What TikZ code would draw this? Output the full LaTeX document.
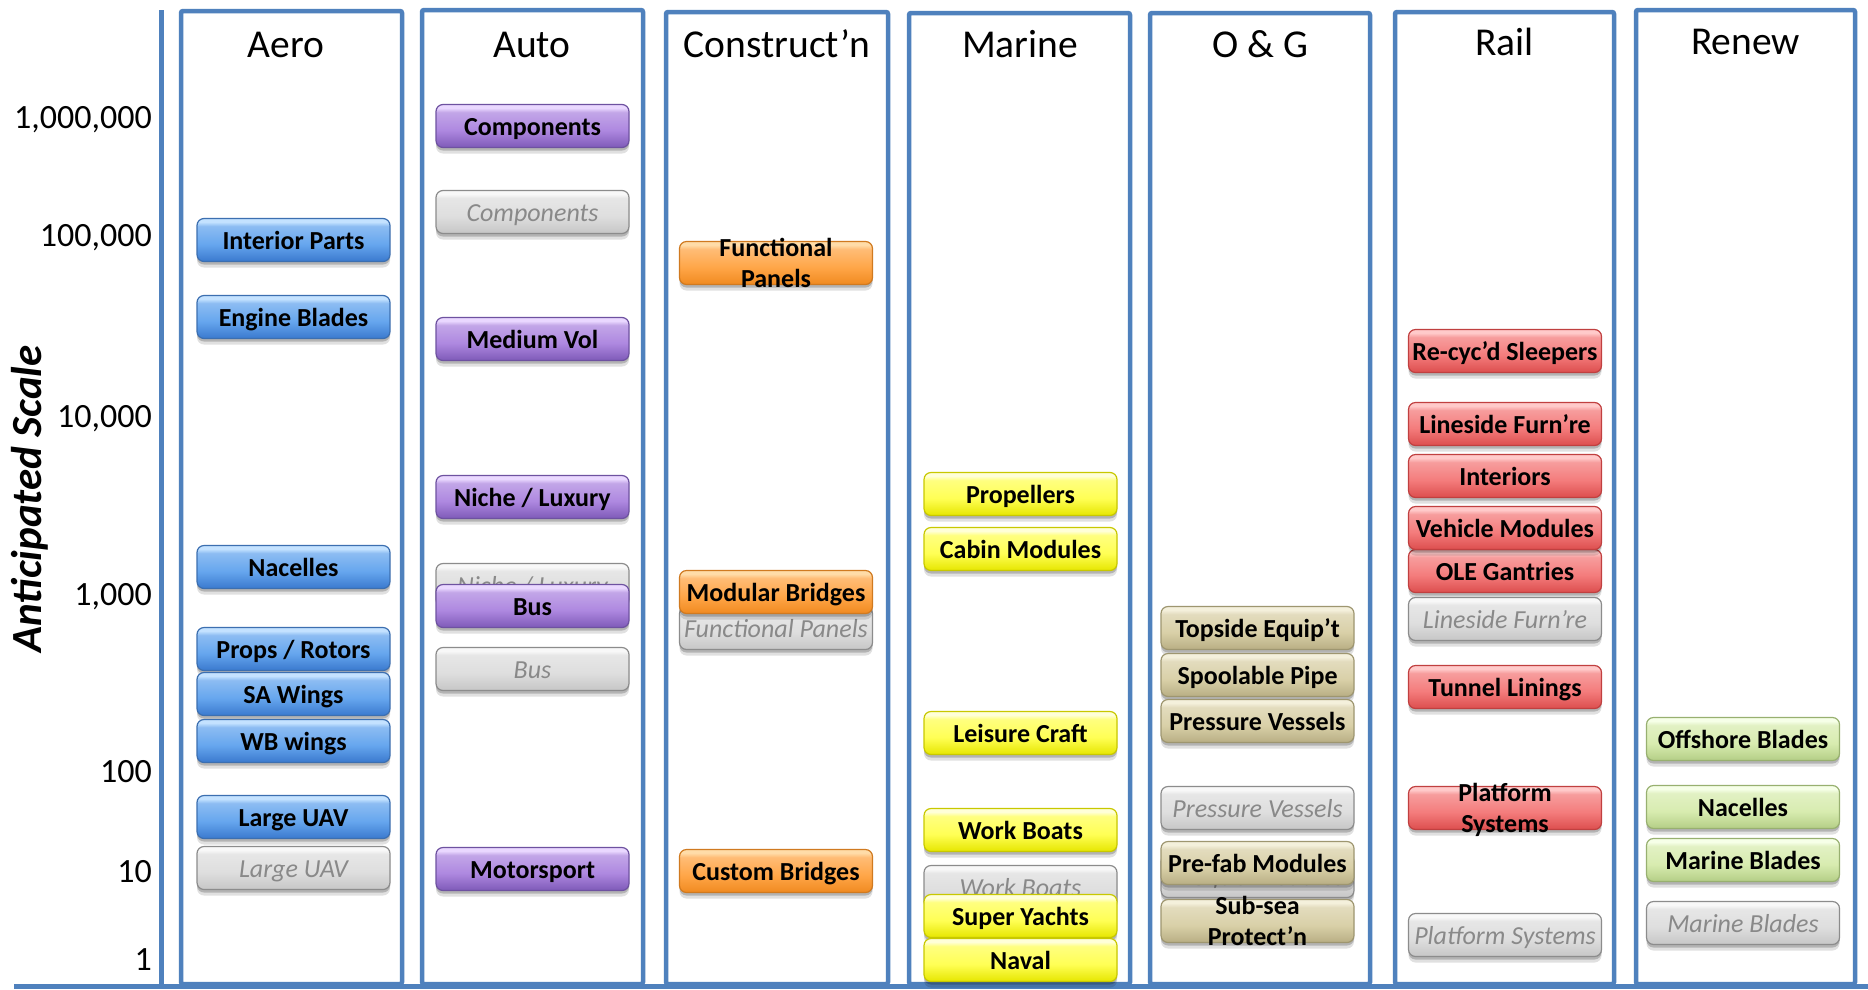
\documentclass[tikz,border=0pt]{standalone}
\usepackage{fontspec}
\setmainfont{Carlito}
\usetikzlibrary{shadows}
\definecolor{colblue}{HTML}{4F81BD}
% light, base, dark, border
\definecolor{bL}{HTML}{C4E2FF}\definecolor{bB}{HTML}{66A6EE}\definecolor{bD}{HTML}{3A79CE}\definecolor{bE}{HTML}{3C6FB0}
\definecolor{pL}{HTML}{EAD8FF}\definecolor{pB}{HTML}{AE88E0}\definecolor{pD}{HTML}{7E5AB8}\definecolor{pE}{HTML}{6E52A0}
\definecolor{oL}{HTML}{FFDCA8}\definecolor{oB}{HTML}{FFA648}\definecolor{oD}{HTML}{F08A20}\definecolor{oE}{HTML}{D07A20}
\definecolor{yL}{HTML}{FFFFD8}\definecolor{yB}{HTML}{FFFF55}\definecolor{yD}{HTML}{E6E600}\definecolor{yE}{HTML}{C8C800}
\definecolor{kL}{HTML}{F4F0DC}\definecolor{kB}{HTML}{D9D0A8}\definecolor{kD}{HTML}{B8AE84}\definecolor{kE}{HTML}{9E9670}
\definecolor{rL}{HTML}{FFCACA}\definecolor{rB}{HTML}{F47C7C}\definecolor{rD}{HTML}{DC4E4E}\definecolor{rE}{HTML}{C04040}
\definecolor{gL}{HTML}{F6FFE8}\definecolor{gB}{HTML}{D8ECB0}\definecolor{gD}{HTML}{B4CE86}\definecolor{gE}{HTML}{98B070}
\definecolor{hL}{HTML}{F8F8F8}\definecolor{hB}{HTML}{DEDEDE}\definecolor{hD}{HTML}{C6C6C6}\definecolor{hE}{HTML}{8C8C8C}
\definecolor{greytext}{HTML}{898989}
\newcommand\mkshade[4]{\pgfdeclareverticalshading{#1}{100bp}{color(0bp)=(#4); color(25bp)=(#4); color(45bp)=(#3); color(66bp)=(#3!75!white); color(71bp)=(#2); color(75bp)=(#2); color(100bp)=(#2)}}
\mkshade{sh-b}{bL}{bB}{bD}
\mkshade{sh-p}{pL}{pB}{pD}
\mkshade{sh-o}{oL}{oB}{oD}
\mkshade{sh-y}{yL}{yB}{yD}
\mkshade{sh-k}{kL}{kB}{kD}
\mkshade{sh-r}{rL}{rB}{rD}
\mkshade{sh-g}{gL}{gB}{gD}
\mkshade{sh-h}{hL}{hB}{hD}
\newcommand\bx[5]{\node[#4] (#1) at (#2,#3) {};
  \node[btxt] at (#1.center) {#5};}
\newcommand\bxx[6]{\node[#4] (#1) at (#2,#3) {};
  \node[btxt,yshift=15.5pt] at (#1.center) {#5};
  \node[btxt,yshift=-15.5pt] at (#1.center) {#6};}
\newcommand\gx[4]{\node[gbox] (#1) at (#2,#3) {};
  \node[gtxt] at (#1.center) {#4};}
\begin{document}
\begin{tikzpicture}[x=1pt,y=-1pt,
  col/.style={draw=colblue, line width=4.5pt, rounded corners=2pt},
  box/.style={rectangle, rounded corners=7pt, minimum width=193pt, minimum height=43pt,
     inner sep=0pt, line width=1.2pt,
     drop shadow={shadow xshift=0pt, shadow yshift=-6pt, opacity=0.12, fill=black},
     drop shadow={shadow xshift=0pt, shadow yshift=-3pt, opacity=0.2, fill=black}},
  bxb/.style={box, draw=bE, shading=sh-b},
  bxp/.style={box, draw=pE, shading=sh-p},
  bxo/.style={box, draw=oE, shading=sh-o},
  bxy/.style={box, draw=yE, shading=sh-y},
  bxk/.style={box, draw=kE, shading=sh-k},
  bxr/.style={box, draw=rE, shading=sh-r},
  bxg/.style={box, draw=gE, shading=sh-g},
  gbox/.style={box, draw=hE, shading=sh-h},
  btxt/.style={anchor=base, yshift=-9pt, inner sep=0pt, font=\fontsize{26}{31}\selectfont\bfseries},
  gtxt/.style={anchor=base, yshift=-9pt, inner sep=0pt, text=greytext, font=\fontsize{26}{31}\selectfont\itshape},
  hdr/.style={anchor=base, inner sep=0pt, font=\fontsize{39.5}{47}\selectfont},
  num/.style={anchor=base east, inner sep=0pt, font=\fontsize{34}{41}\selectfont}]
\useasboundingbox (0,0) rectangle (1868,989);
\fill[white] (0,0) rectangle (1868,989);
% axis
\draw[colblue, line width=5pt] (161,10) -- (161,986);
\draw[colblue, line width=5pt] (14,986) -- (1868,986);
% columns
\draw[col] (181,11) rectangle (402,984);
\draw[col] (422,10) rectangle (643,984);
\draw[col] (666,12) rectangle (888,984);
\draw[col] (909,13) rectangle (1130,984);
\draw[col] (1150,13) rectangle (1370,984);
\draw[col] (1395,12) rectangle (1614,984);
\draw[col] (1636,10) rectangle (1855,984);
% headers
\node[hdr] (h1) at (286,57) {Aero};
\node[hdr] (h2) at (532,57) {Auto};
\node[hdr] (h3) at (777,57) {Construct’n};
\node[hdr] (h4) at (1020,57) {Marine};
\node[hdr] (h5) at (1260,57) {O \& G};
\node[hdr] (h6) at (1504.5,55) {Rail};
\node[hdr] (h7) at (1745.5,54) {Renew};
% scale
\node[num] (s1) at (152,128) {1,000,000};
\node[num] (s2) at (152,246) {100,000};
\node[num] (s3) at (152,427) {10,000};
\node[num] (s4) at (152,605) {1,000};
\node[num] (s5) at (152,782) {100};
\node[num] (s6) at (152,882) {10};
\node[num] (s7) at (152,970) {1};
\node[rotate=90, anchor=base, inner sep=0pt, font=\fontsize{43}{50}\selectfont\bfseries\itshape] (ylab) at (41,499) {Anticipated Scale};
% Aero
\bx{a1}{293.5}{240}{bxb}{Interior Parts}
\bx{a2}{293.5}{317}{bxb}{Engine Blades}
\bx{a3}{293.5}{567}{bxb}{Nacelles}
\bx{a4}{293.5}{649}{bxb}{Props / Rotors}
\bx{a5}{293.5}{694}{bxb}{SA Wings}
\bx{a6}{293.5}{741}{bxb}{WB wings}
\bx{a7}{293.5}{817}{bxb}{Large UAV}
\gx{ag}{293.5}{868}{Large UAV}
% Auto
\bx{u1}{532.5}{126}{bxp}{Components}
\gx{ug1}{532.5}{212}{Components}
\bx{u2}{532.5}{339}{bxp}{Medium Vol}
\bx{u3}{532.5}{497}{bxp}{Niche / Luxury}
\gx{ug2}{532.5}{585}{Niche / Luxury}
\bx{u4}{532.5}{606}{bxp}{Bus}
\gx{ug3}{532.5}{669}{Bus}
\bx{u5}{532.5}{869}{bxp}{Motorsport}
% Construct'n
\bxx{c1}{776}{263}{bxo}{Functional}{Panels}
\gx{cg}{776}{628}{Functional Panels}
\bx{c2}{776}{592}{bxo}{Modular Bridges}
\bx{c3}{776}{871}{bxo}{Custom Bridges}
% Marine
\bx{m1}{1020.5}{494}{bxy}{Propellers}
\bx{m2}{1020.5}{549}{bxy}{Cabin Modules}
\bx{m3}{1020.5}{733}{bxy}{Leisure Craft}
\bx{m4}{1020.5}{830}{bxy}{Work Boats}
\gx{mg}{1020.5}{887}{Work Boats}
\bx{m5}{1020.5}{916}{bxy}{Super Yachts}
\bx{m6}{1020.5}{960}{bxy}{Naval}
% O & G
\bx{o1}{1257.5}{628}{bxk}{Topside Equip’t}
\bx{o2}{1257.5}{675}{bxk}{Spoolable Pipe}
\bx{o3}{1257.5}{721}{bxk}{Pressure Vessels}
\gx{og1}{1257.5}{808}{Pressure Vessels}
\gx{og2}{1257.5}{876}{Pre-fab Modules}
\bx{o4}{1257.5}{863}{bxk}{Pre-fab Modules}
\bxx{o5}{1257.5}{921}{bxk}{Sub-sea}{Protect’n}
% Rail
\bx{r1}{1505}{351}{bxr}{Re-cyc’d Sleepers}
\bx{r2}{1505}{424}{bxr}{Lineside Furn’re}
\bx{r3}{1505}{476}{bxr}{Interiors}
\bx{r5}{1505}{571}{bxr}{OLE Gantries}
\bx{r4}{1505}{528}{bxr}{Vehicle Modules}
\gx{rg1}{1505}{619}{Lineside Furn’re}
\bx{r6}{1505}{687}{bxr}{Tunnel Linings}
\bxx{r7}{1505}{808}{bxr}{Platform}{Systems}
\gx{rg2}{1505}{935}{Platform Systems}
% Renew
\bx{n1}{1743}{739}{bxg}{Offshore Blades}
\bx{n2}{1743}{807}{bxg}{Nacelles}
\bx{n3}{1743}{860}{bxg}{Marine Blades}
\gx{ng}{1743}{923}{Marine Blades}
\end{tikzpicture}
\end{document}
